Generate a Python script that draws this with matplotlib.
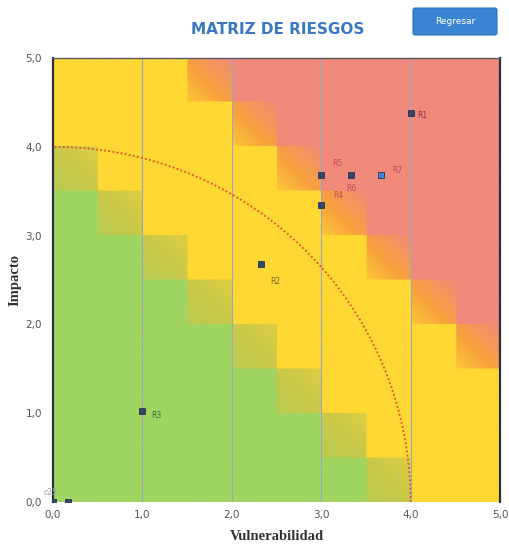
"""Matriz de riesgos: vulnerabilidad vs impacto."""
import numpy as np
import matplotlib.pyplot as plt
from matplotlib.colors import to_rgb
from matplotlib.patches import FancyBboxPatch
from matplotlib.ticker import FuncFormatter

# risk level per 0.5 cell, top row first (0 verde, 1 verde/amarillo, 2 amarillo, 3 amarillo/rojo, 4 rojo)
niveles = [
    [2, 2, 2, 3, 4, 4, 4, 4, 4, 4],
    [2, 2, 2, 2, 3, 4, 4, 4, 4, 4],
    [1, 2, 2, 2, 2, 3, 4, 4, 4, 4],
    [0, 1, 2, 2, 2, 2, 3, 4, 4, 4],
    [0, 0, 1, 2, 2, 2, 2, 3, 4, 4],
    [0, 0, 0, 1, 2, 2, 2, 2, 3, 4],
    [0, 0, 0, 0, 1, 2, 2, 2, 2, 3],
    [0, 0, 0, 0, 0, 1, 2, 2, 2, 2],
    [0, 0, 0, 0, 0, 0, 1, 2, 2, 2],
    [0, 0, 0, 0, 0, 0, 0, 1, 2, 2],
]

riesgos = ["R1", "R2", "R3", "R4", "R5", "R6", "R7", "c25", ""]
vulnerabilidad = [4.0, 2.33, 1.0, 3.0, 3.0, 3.33, 3.67, 0.0, 0.17]
impacto = [4.38, 2.68, 1.02, 3.35, 3.68, 3.68, 3.68, 0.0, 0.0]

radio_limite = 4.0
ticks = [0, 1, 2, 3, 4, 5]

verde = np.array(to_rgb("#9fd560"))
oliva = np.array(to_rgb("#c9c84a"))
amarillo = np.array(to_rgb("#ffd834"))
naranja = np.array(to_rgb("#f7a23c"))
rojo = np.array(to_rgb("#f08a7b"))


def blend(c0, c1, c2, w):
    """Three stop colour ramp, w in [0, 1]."""
    w = w[..., None]
    lo = c0 * (1 - 2 * w) + c1 * (2 * w)
    hi = c1 * (2 - 2 * w) + c2 * (2 * w - 1)
    return np.where(w < 0.5, lo, hi)


def build_background(levels, px=40):
    """Render the cell matrix, shading the border cells diagonally."""
    lv = np.array(levels)[::-1]
    n = lv.shape[0]
    big = np.repeat(np.repeat(lv, px, axis=0), px, axis=1)
    loc = (np.arange(px) + 0.5) / px
    u = np.tile(loc, n)[None, :]
    v = np.tile(loc, n)[:, None]
    t = (u + v) / 2.0 * np.ones(big.shape)
    img = np.zeros(big.shape + (3,))
    img[big == 0] = verde
    img[big == 2] = amarillo
    img[big == 4] = rojo
    mix1 = blend(verde, oliva, amarillo, 0.3 + 0.4 * t)
    mix3 = blend(amarillo, naranja, rojo, 0.15 + 0.85 * t)
    img[big == 1] = mix1[big == 1]
    img[big == 3] = mix3[big == 3]
    return img


fig = plt.figure(figsize=(5.09, 5.45), dpi=100)
ax = fig.add_axes([0.1041, 0.0789, 0.8782, 0.8147])

ax.imshow(build_background(niveles), extent=[0, 5, 0, 5], origin="lower",
          aspect="auto", interpolation="bilinear", zorder=0)

for g in [1, 2, 3, 4]:
    ax.axvline(g, color="#a2a6bc", lw=0.8, zorder=1)

ang = np.linspace(0, np.pi / 2, 200)
ax.plot(radio_limite * np.cos(ang), radio_limite * np.sin(ang),
        color="#e0502a", lw=1.3, ls=(0, (1, 1.3)), zorder=2)

colores = ["#34466a"] * 6 + ["#3f82d6", "#34466a", "#34466a"]
for x, y, c in zip(vulnerabilidad, impacto, colores):
    ax.plot(x, y, "s", ms=4.3, color=c, mec="#2a3450", mew=0.6, zorder=4)

etiquetas = {
    "R1": (0.08, -0.03, "#8c2f4a"),
    "R2": (0.1, -0.2, "#7a6526"),
    "R3": (0.1, -0.05, "#3c6d46"),
    "R4": (0.13, 0.1, "#c24a5a"),
    "R5": (0.12, 0.13, "#c24a5a"),
    "R6": (-0.05, -0.15, "#c24a5a"),
    "R7": (0.12, 0.05, "#c24a5a"),
    "c25": (-0.1, 0.11, "#9a9aaa"),
}
for nombre, x, y in zip(riesgos, vulnerabilidad, impacto):
    if nombre in etiquetas:
        dx, dy, c = etiquetas[nombre]
        ax.text(x + dx, y + dy, nombre, fontsize=5.5, color=c,
                va="center", ha="left", zorder=5, clip_on=False)

ax.set_xlim(0, 5)
ax.set_ylim(0, 5)
ax.set_xticks(ticks)
ax.set_yticks(ticks)
fmt = FuncFormatter(lambda v, p: f"{v:.1f}".replace(".", ","))
ax.xaxis.set_major_formatter(fmt)
ax.yaxis.set_major_formatter(fmt)
ax.tick_params(length=0, labelsize=7.5, labelcolor="#555555")
ax.tick_params(axis="y", pad=8)
ax.tick_params(axis="x", pad=6)

ax.spines["bottom"].set_visible(False)
ax.spines["left"].set_color("#2b3040")
ax.spines["left"].set_linewidth(1.6)
ax.spines["right"].set_color("#2b3040")
ax.spines["right"].set_linewidth(1.6)
ax.spines["top"].set_color("#5a5a66")
ax.spines["top"].set_linewidth(1.0)

ax.set_xlabel("Vulnerabilidad", fontsize=10.5, fontweight="bold",
              family="Liberation Serif", color="#333333", labelpad=7)
ax.set_ylabel("Impacto", fontsize=10.5, fontweight="bold",
              family="Liberation Serif", color="#333333", labelpad=3)

fig.text(0.545, 0.945, "MATRIZ DE RIESGOS", ha="center", va="center",
         fontsize=11, fontweight="bold", color="#3b78c2")

# "Regresar" button top right
boton = FancyBboxPatch((0.8114, 0.9358), 0.165, 0.0495,
                       boxstyle="round,pad=0,rounding_size=0.004",
                       transform=fig.transFigure, facecolor="#3a84d2",
                       edgecolor="#2f70b8", lw=0.8)
fig.patches.append(boton)
fig.text(0.8114 + 0.0825, 0.9358 + 0.025, "Regresar", ha="center",
         va="center", fontsize=6.5, color="white")

fig.savefig("out.png", dpi=100)
